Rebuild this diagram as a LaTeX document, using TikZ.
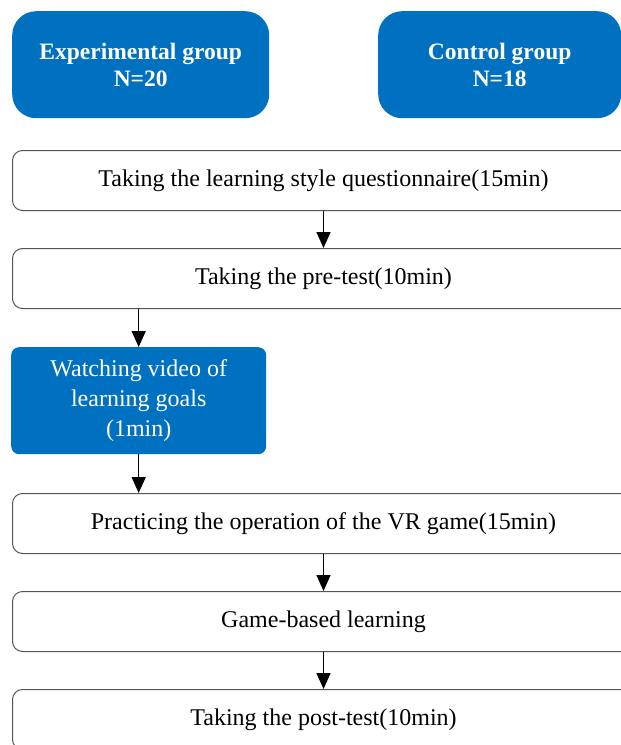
\documentclass[tikz,border=0pt]{standalone}
\usepackage{fontspec}
\setmainfont{Liberation Serif}
\usepackage{xcolor}
\definecolor{studyblue}{HTML}{0070C0}
\definecolor{framegray}{HTML}{555555}
\usetikzlibrary{arrows.meta, positioning}
\tikzset{
  groupbox/.style={rectangle, rounded corners=24pt, fill=studyblue, text=white, align=center,
                   font=\fontsize{23.5}{27}\selectfont\bfseries, minimum height=107pt, anchor=north west},
  stepbox/.style ={rectangle, rounded corners=10pt, draw=framegray, line width=1pt, fill=white,
                   text=black, align=center, font=\fontsize{24}{28}\selectfont,
                   minimum width=622pt, minimum height=60pt, anchor=north west},
  videobox/.style={rectangle, rounded corners=8pt, fill=studyblue, text=white, align=center,
                   font=\fontsize{24}{30}\selectfont, minimum width=255pt, minimum height=107pt, anchor=north west},
  sarr/.style    ={-{Triangle[length=16pt, width=14pt]}, line width=1.4pt, color=black},
}
\begin{document}
\begin{tikzpicture}[x=1pt, y=-1pt]
  \useasboundingbox (0,0) rectangle (621,745);
  \clip (0,0) rectangle (621,745);
  % group headers
  \node[groupbox, minimum width=257pt] (exp) at (12,11) {Experimental group\\N=20};
  \node[groupbox, minimum width=243pt] (ctl) at (378,11) {Control group\\N=18};
  % procedure
  \node[stepbox] (quest) at (12,150) {Taking the learning style questionnaire(15min)};
  \node[stepbox] (pre) at (12,248) {Taking the pre-test(10min)};
  \node[videobox] (vid) at (11,347) {Watching video of\\learning goals\\(1min)};
  \node[stepbox] (prac) at (12,493) {Practicing the operation of the VR game(15min)};
  \node[stepbox] (game) at (12,591) {Game-based learning};
  \node[stepbox] (post) at (12,689) {Taking the post-test(10min)};
  \draw[sarr] (quest) -- (pre);
  \draw[sarr] (pre.south -| vid) -- (vid);
  \draw[sarr] (vid) -- (vid |- prac.north);
  \draw[sarr] (prac) -- (game);
  \draw[sarr] (game) -- (post);
\end{tikzpicture}
\end{document}
